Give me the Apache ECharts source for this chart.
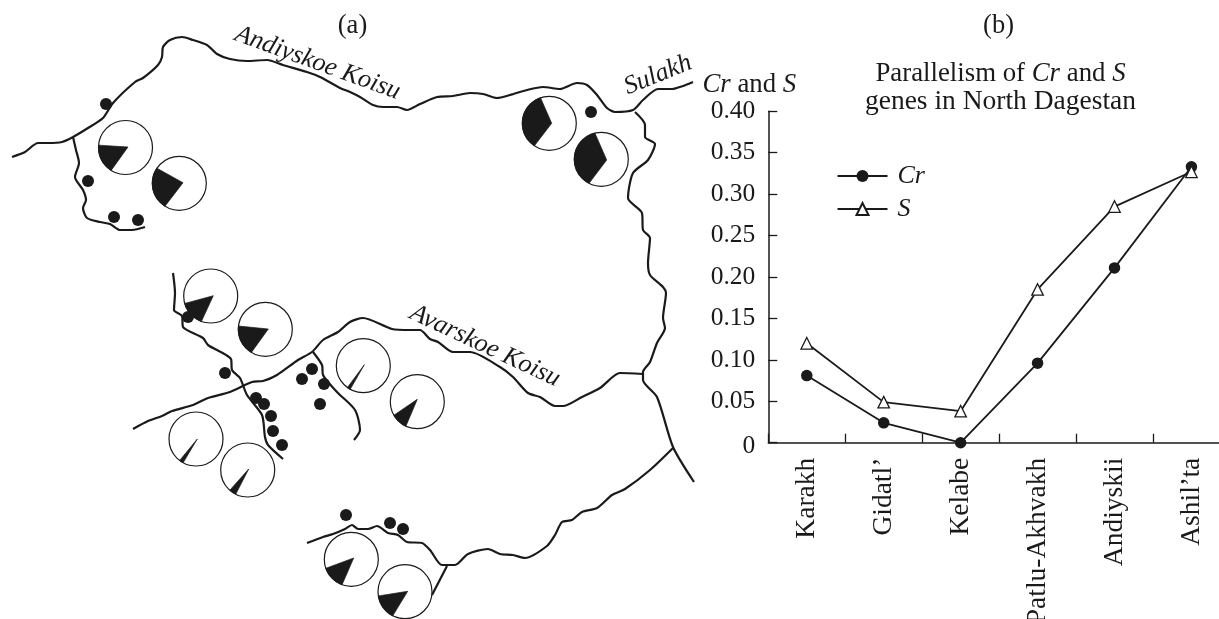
<!DOCTYPE html>
<html><head><meta charset="utf-8">
<style>html,body{margin:0;padding:0;background:#fff}#c{width:1219px;height:619px}</style>
<script src="https://cdn.jsdelivr.net/npm/echarts@6/dist/echarts.min.js"></script>
</head><body><div id="c"></div>
<script>
// ---- panel (b) data
const sites = ["Karakh","Gidatl’","Kelabe","Patlu-Akhvakh","Andiyskii","Ashil’ta"];
const crValues = [0.081,0.024,0,0.096,0.211,0.333];
const sValues = [0.12,0.049,0.038,0.185,0.285,0.327];
// ---- panel (a) map data, in map units
const riverAndi = [[12,157],[25,152],[38,143],[48,143],[62,142],[73,137],[88,128],[103,118],[113,103],[135,82],[143,78],[158,65],[162,57],[163,47],[170,40],[182,37],[193,40],[207,45],[217,54],[230,59],[247,61],[267,60],[283,65],[307,72],[320,77],[340,88],[350,92],[360,97],[373,105],[383,107],[397,107],[407,110],[420,104],[437,97],[453,96],[470,93],[483,94],[497,98],[510,95],[527,90],[543,87],[560,89],[577,83],[587,85],[597,95],[607,108],[615,112],[633,110],[643,100],[658,89],[672,89],[683,86],[693,82]];
const riverSulakh = [[635,112],[645,125],[645,137],[655,144],[648,160],[633,173],[628,198],[642,213],[643,230],[650,238],[648,263],[650,275],[663,287],[666,293],[663,318],[665,328],[657,343],[650,362],[643,372],[643,380],[657,397],[673,447],[694,482]];
const riverAndiTrib = [[73,137],[76,150],[79,163],[75,177],[83,190],[86,200],[83,208],[87,218],[100,222],[110,224],[120,230],[132,230],[145,227]];
const riverAvar = [[133,429],[148,421],[162,416],[172,411],[193,405],[208,398],[230,392],[252,382],[263,381],[277,375],[298,360],[312,352],[323,340],[338,332],[350,322],[363,318],[392,329],[410,330],[420,330],[430,339],[438,342],[453,352],[470,352],[500,367],[513,377],[528,393],[540,397],[555,406],[563,406],[582,397],[600,388],[620,373],[643,374]];
const riverAvarTribA = [[173,273],[175,293],[174,310],[182,316],[183,327],[203,338],[208,345],[231,359],[232,370],[240,378],[247,395],[262,415],[265,437],[268,445],[283,459]];
const riverAvarTribB = [[313,352],[322,365],[323,375],[337,392],[355,410],[360,430],[354,440]];
const riverSouth = [[307,543],[323,537],[333,534],[345,529],[352,525],[358,529],[368,529],[377,526],[388,533],[398,535],[407,542],[422,543],[430,550],[442,565],[455,565],[468,554],[488,549],[500,554],[513,555],[525,558],[547,546],[555,535],[562,522],[572,520],[582,512],[597,508],[612,495],[625,489],[650,470],[673,448]];
const riverSouthTrib = [[447,566],[432,595]];
// circle x, circle y, wedge apex x, apex y, rim angle 1, rim angle 2 (degrees)
const pieMarks = [
 [125.5,147.5,128,147,175,238],[179.3,183.3,183,182.7,146,238],
 [549.3,123.3,551.7,123.3,109,236.5],[601.3,159.3,606.7,160,103.7,243],
 [210.7,296,213.3,295.7,196,250],[265.3,329.3,268.3,329,173,239],
 [363.3,365.7,364.3,364.7,234,241],[417.3,401.7,417.3,399.3,210,245],
 [196,439,197.3,439,232.7,241.5],[247.7,470,248.7,469,228.5,243.7],
 [351.3,559.3,353.7,558,199.5,250],[405,591.7,407.7,591.3,189,243]
];
const pieRadius = 27;
const sampleDots = [[106,104],[88,181],[114,217],[138,220],[591,112],[188,317],[225,373],[256,398],[264,404],[271,416],[273,431],[282,445],[302,379],[312,369],[324,384],[320,404],[346,515],[390,523],[403,529]];
const riverLabels = [[317.5,63,"Andiyskoe Koisu",-20],[485,346,"Avarskoe Koisu",-25],[658,75,"Sulakh",22]];

const serif = '"Liberation Serif","Times New Roman",serif';
const ink = '#1a1a1a';
const rivers = [riverAndi,riverSulakh,riverAndiTrib,riverAvar,riverAvarTribA,riverAvarTribB,riverSouth,riverSouthTrib];

const riverSeries = rivers.map(d => ({
  type:'line', xAxisIndex:1, yAxisIndex:1, data:d, showSymbol:false, symbol:'none', silent:true,
  smooth:0.25, lineStyle:{color:ink,width:2.2}, z:1, legendHoverLink:false
}));

const rich = {
  p:{fontFamily:serif,fontSize:26.8,color:ink,lineHeight:28.5},
  q:{fontFamily:serif,fontSize:26.8,fontStyle:'italic',color:ink,lineHeight:28.5},
  n:{fontFamily:serif,fontSize:27.5,color:ink,lineHeight:28.5}
};
const labelText = {fontFamily:serif,fontSize:26.5,fontWeight:'normal',color:ink};

const option = {
  animation:false,
  backgroundColor:'#fff',
  title:[
    {text:'(a)',left:347.5,top:8,textAlign:'center',textStyle:labelText},
    {text:'(b)',left:993.5,top:8,textAlign:'center',textStyle:labelText},
    {text:'{p|Parallelism of }{q|Cr}{p| and }{q|S}\n{n|genes in North Dagestan}',left:995.5,top:54.5,textAlign:'center',
     textStyle:{rich:rich,fontFamily:serif,fontSize:26.8,fontWeight:'normal',color:ink,lineHeight:28.5}}
  ],
  legend:{data:['Cr','S'],left:831.5,top:158,orient:'vertical',itemWidth:50,itemHeight:15,itemGap:7,selectedMode:false,
    textStyle:{fontFamily:serif,fontSize:26,fontStyle:'italic',color:ink,padding:[0,0,0,5]}},
  grid:[
    {left:768.3,top:111.3,width:461.6,height:331.4,containLabel:false,outerBoundsMode:'none'},
    {left:0,top:0,width:1219,height:619,containLabel:false,outerBoundsMode:'none'}
  ],
  xAxis:[
    {type:'category',data:sites,boundaryGap:true,gridIndex:0,
     axisLine:{lineStyle:{color:ink,width:1.5}},
     axisTick:{show:true,alignWithLabel:false,inside:true,length:9,lineStyle:{color:ink,width:1.3}},
     axisLabel:{rotate:90,interval:0,margin:15,fontFamily:serif,fontSize:27.5,color:ink}},
    {type:'value',gridIndex:1,min:0,max:1219,show:false}
  ],
  yAxis:[
    {type:'value',gridIndex:0,min:0,max:0.4,interval:0.05,
     name:'{q|Cr}{p| and }{q|S}',nameLocation:'end',nameGap:11.5,
     nameTextStyle:{rich:rich,padding:[0,38,0,0]},
     splitLine:{show:false},
     axisLine:{show:true,lineStyle:{color:ink,width:1.5}},
     axisTick:{show:true,inside:true,length:9,lineStyle:{color:ink,width:1.3}},
     axisLabel:{margin:13,fontFamily:serif,fontSize:25.5,color:ink,showMinLabel:true,showMaxLabel:true,
       rich:{z:{fontFamily:serif,fontSize:25.5,color:ink,padding:[8,0,0,0]}},
       formatter:v=>v===0?'{z|0}':v.toFixed(2)}},
    {type:'value',gridIndex:1,min:0,max:619,inverse:true,show:false}
  ],
  series:[
    ...riverSeries,
    {type:'custom',xAxisIndex:1,yAxisIndex:1,data:pieMarks,z:2,silent:true,clip:false,
     encode:{x:0,y:1},
     renderItem:(p,api)=>{
       const cx=api.value(0),cy=api.value(1),ax=api.value(2),ay=api.value(3),a1=api.value(4),a2=api.value(5);
       const c=api.coord([cx,cy]);
       const pts=[api.coord([ax,ay])];
       const n=24;
       for(let k=0;k<=n;k++){
         const t=(a1+(a2-a1)*k/n)*Math.PI/180;
         pts.push(api.coord([cx+pieRadius*Math.cos(t),cy-pieRadius*Math.sin(t)]));
       }
       return {type:'group',children:[
         {type:'circle',shape:{cx:c[0],cy:c[1],r:pieRadius},style:{fill:'#fff',stroke:ink,lineWidth:1.2}},
         {type:'polygon',shape:{points:pts},style:{fill:ink,stroke:ink,lineWidth:0.7}}
       ]};
     }},
    {type:'scatter',xAxisIndex:1,yAxisIndex:1,data:sampleDots,symbol:'circle',symbolSize:12,silent:true,
     itemStyle:{color:ink,opacity:1},z:3,clip:false},
    {type:'custom',xAxisIndex:1,yAxisIndex:1,data:riverLabels,z:4,silent:true,clip:false,
     encode:{x:0,y:1},
     renderItem:(p,api)=>{
       const c=api.coord([api.value(0),api.value(1)]);
       const d=riverLabels[p.dataIndex];
       return {type:'text',x:c[0],y:c[1],rotation:d[3]*Math.PI/180,
         style:{text:d[2],fill:ink,font:'italic 26px '+serif,textAlign:'center',textVerticalAlign:'middle'}};
     }},
    {name:'Cr',type:'line',xAxisIndex:0,yAxisIndex:0,data:crValues,symbol:'circle',symbolSize:11.5,showSymbol:true,clip:false,
     lineStyle:{color:ink,width:1.8},itemStyle:{color:ink},z:5},
    {name:'S',type:'line',xAxisIndex:0,yAxisIndex:0,data:sValues,symbol:'triangle',symbolSize:11.5,showSymbol:true,clip:false,
     lineStyle:{color:ink,width:1.8},itemStyle:{color:'#fff',borderColor:ink,borderWidth:1.3},z:6}
  ]
};
echarts.init(document.getElementById('c'),null,{renderer:'canvas'}).setOption(option);
</script></body></html>
